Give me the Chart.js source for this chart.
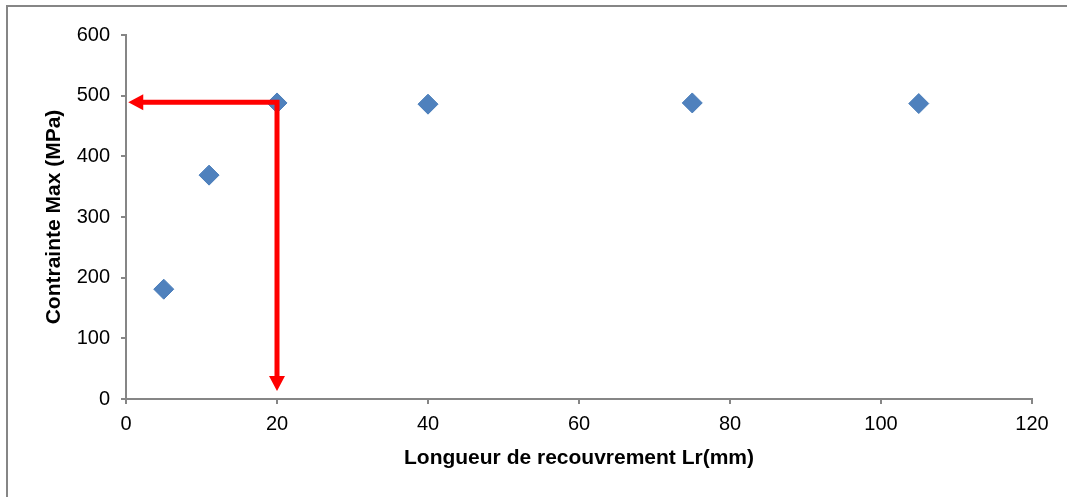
<!DOCTYPE html>
<html>
<head>
<meta charset="utf-8">
<script src="https://cdn.jsdelivr.net/npm/chart.js@4"></script>
<style>
  html, body { margin: 0; padding: 0; background: #ffffff; }
  #wrap { width: 1067px; height: 497px; position: relative; }
</style>
</head>
<body>
<div id="wrap"><canvas id="c" width="1067" height="497"></canvas></div>
<script>
// ---- data ----
const lengthsMm = [5, 11, 20, 40, 75, 105];
const maxStressMPa = [181, 369, 488, 486, 488, 487];
const xTickValues = [0, 20, 40, 60, 80, 100, 120];
const yTickValues = [0, 100, 200, 300, 400, 500, 600];
const xAxisTitle = 'Longueur de recouvrement Lr(mm)';
const yAxisTitle = 'Contrainte Max (MPa)';
// red guide arrows (data coordinates)
const arrowCornerX = [20];
const arrowLevelY = [489];
const arrowTipX = [0.3];
const arrowTipY = [13];

const points = lengthsMm.map((x, i) => ({ x: x, y: maxStressMPa[i] }));

const axisGray = '#868686';

const frame = {
  id: 'frame',
  beforeDraw(chart) {
    const ctx = chart.ctx;
    ctx.save();
    ctx.fillStyle = '#ffffff';
    ctx.fillRect(0, 0, chart.width, chart.height);
    ctx.strokeStyle = axisGray;
    ctx.lineWidth = 2;
    ctx.strokeRect(7, 6, chart.width + 20, chart.height + 20);
    ctx.restore();
  }
};

const arrows = {
  id: 'arrows',
  afterDatasetsDraw(chart) {
    const ctx = chart.ctx;
    const xs = chart.scales.x, ys = chart.scales.y;
    const head = 15, half = 8;
    ctx.save();
    ctx.strokeStyle = '#ff0000';
    ctx.fillStyle = '#ff0000';
    ctx.lineWidth = 5;
    ctx.lineJoin = 'miter';
    for (let i = 0; i < arrowCornerX.length; i++) {
      const cx = xs.getPixelForValue(arrowCornerX[i]);
      const cy = ys.getPixelForValue(arrowLevelY[i]);
      const tx = xs.getPixelForValue(arrowTipX[i]);
      const ty = ys.getPixelForValue(arrowTipY[i]);
      ctx.beginPath();
      ctx.moveTo(tx + head - 1, cy);
      ctx.lineTo(cx, cy);
      ctx.lineTo(cx, ty - head + 1);
      ctx.stroke();
      // left arrow head
      ctx.beginPath();
      ctx.moveTo(tx, cy);
      ctx.lineTo(tx + head, cy - half);
      ctx.lineTo(tx + head, cy + half);
      ctx.closePath();
      ctx.fill();
      // down arrow head
      ctx.beginPath();
      ctx.moveTo(cx, ty);
      ctx.lineTo(cx - half, ty - head);
      ctx.lineTo(cx + half, ty - head);
      ctx.closePath();
      ctx.fill();
    }
    ctx.restore();
  }
};

new Chart(document.getElementById('c'), {
  type: 'scatter',
  data: {
    datasets: [{
      data: points,
      pointStyle: 'rectRot',
      pointRadius: 10,
      pointHoverRadius: 10,
      backgroundColor: '#4F81BD',
      borderColor: '#4A7EBB',
      borderWidth: 1,
      clip: false
    }]
  },
  options: {
    responsive: false,
    animation: false,
    events: [],
    layout: { padding: { left: 0, top: 35, right: 35, bottom: 0 } },
    plugins: { legend: { display: false }, tooltip: { enabled: false } },
    scales: {
      x: {
        type: 'linear',
        min: 0, max: 120,
        afterBuildTicks: (s) => { s.ticks = xTickValues.map(v => ({ value: v })); },
        afterFit: (s) => { s.height = 98; },
        grid: { drawOnChartArea: false, drawTicks: true, tickLength: 5, color: axisGray, lineWidth: 2 },
        border: { color: axisGray, width: 2 },
        ticks: { color: '#000000', padding: 8, maxRotation: 0,
                 font: { family: '"Liberation Sans", Arial, sans-serif', size: 20 } },
        title: { display: true, text: xAxisTitle, color: '#000000',
                 padding: { top: 0, bottom: 26 },
                 font: { family: '"Liberation Sans", Arial, sans-serif', size: 21, weight: 'bold' } }
      },
      y: {
        type: 'linear',
        min: 0, max: 600,
        afterBuildTicks: (s) => { s.ticks = yTickValues.map(v => ({ value: v })); },
        afterFit: (s) => { s.width = 126; },
        grid: { drawOnChartArea: false, drawTicks: true, tickLength: 5, color: axisGray, lineWidth: 2 },
        border: { color: axisGray, width: 2 },
        ticks: { color: '#000000', padding: 11,
                 font: { family: '"Liberation Sans", Arial, sans-serif', size: 20 } },
        title: { display: true, text: yAxisTitle, color: '#000000',
                 padding: { top: 42, bottom: 0 },
                 font: { family: '"Liberation Sans", Arial, sans-serif', size: 21, weight: 'bold' } }
      }
    }
  },
  plugins: [frame, arrows]
});
</script>
</body>
</html>
